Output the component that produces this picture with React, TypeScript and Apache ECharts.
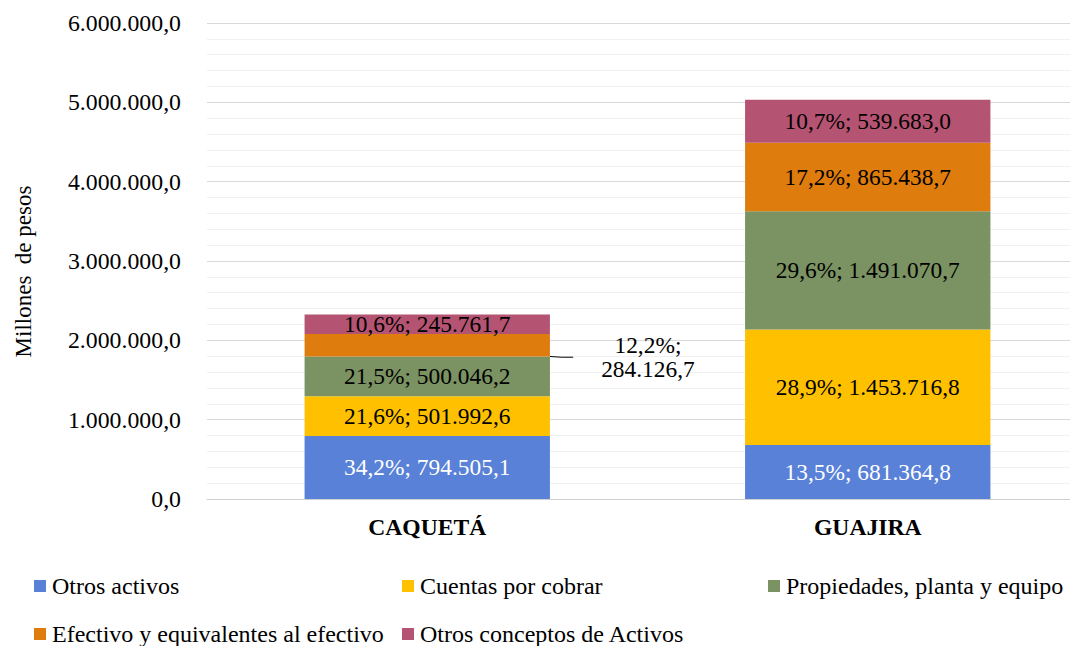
import React, { useEffect, useRef } from "react";
import * as echarts from "echarts";

const categories = ["CAQUETÁ", "GUAJIRA"];
const seriesNames = [
  "Otros activos",
  "Cuentas por cobrar",
  "Propiedades, planta y equipo",
  "Efectivo y equivalentes al efectivo",
  "Otros conceptos de Activos",
];
const otrosActivos = [794505.1, 681364.8];
const cuentasPorCobrar = [501992.6, 1453716.8];
const propiedades = [500046.2, 1491070.7];
const efectivo = [284126.7, 865438.7];
const otrosConceptos = [245761.7, 539683.0];
const seriesValues = [otrosActivos, cuentasPorCobrar, propiedades, efectivo, otrosConceptos];
const colors = ["#5881D7", "#FFC000", "#7B9262", "#DE7C0D", "#B55472"];
const labelColors = ["#ffffff", "#000000", "#000000", "#000000", "#000000"];
const yMin = 0;
const yMax = 6000000;
const yInterval = 1000000;
const yAxisName = "Millones  de pesos";

const FONT = "Liberation Serif";
const FS_LABEL = 23.4;
const FS_TICK = 23.8;
const FS_LEGEND = 24;
const FS_CAT = 23.6;
const FS_NAME = 23;

function fmtNum(v: number): string {
  const s = Math.abs(v).toFixed(1);
  const [intPart, dec] = s.split(".");
  const grouped = intPart.replace(/\B(?=(\d{3})+(?!\d))/g, ".");
  return (v < 0 ? "-" : "") + grouped + "," + dec;
}

const totals = categories.map((_, i) => seriesValues.reduce((a, s) => a + s[i], 0));
function pct(v: number, i: number): string {
  return ((v / totals[i]) * 100).toFixed(1).replace(".", ",") + "%";
}

export default function App() {
  const ref = useRef<HTMLDivElement>(null);
  useEffect(() => {
    document.body.style.margin = "0";
    if (!ref.current) return;
    const chart = echarts.init(ref.current, null, { renderer: "svg" });

    const legendPos = [
      { left: 34, top: 573 },
      { left: 402, top: 573 },
      { left: 768, top: 573 },
      { left: 34, top: 621 },
      { left: 402, top: 621 },
    ];

    const series: any[] = seriesNames.map((name, si) => {
      const values = seriesValues[si];
      const isEfectivo = si === 3;
      const data = values.map((v, ci) => {
        if (isEfectivo && ci === 0) {
          return {
            value: v,
            label: {
              formatter: () => pct(v, ci) + ";\n" + fmtNum(v),
              lineHeight: 24,
              padding: [0, 28, 0, 28],
              align: "center",
            },
            labelLine: { show: true, length2: 12, lineStyle: { color: "#000", width: 1 } },
          };
        }
        return v;
      });
      const s: any = {
        name,
        type: "bar",
        stack: "total",
        barWidth: "55.7%",
        data,
        itemStyle: { color: colors[si] },
        label: {
          show: true,
          position: "inside",
          color: labelColors[si],
          fontSize: FS_LABEL,
          fontFamily: FONT,
          textBorderWidth: 0,
          formatter: (p: any) => pct(values[p.dataIndex], p.dataIndex) + "; " + fmtNum(values[p.dataIndex]),
        },
        emphasis: { disabled: true },
      };
      if (isEfectivo) {
        s.labelLayout = (params: any) => {
          if (params.dataIndex !== 0) return {};
          const r = params.rect;
          return {
            x: r.x + r.width + 98,
            y: r.y + r.height / 2 + 12,
            align: "center",
            verticalAlign: "middle",
          };
        };
      }
      return s;
    });

    chart.setOption({
      animation: false,
      grid: { left: 207, top: 23, width: 881, height: 476, containLabel: false, outerBoundsMode: "none" },
      legend: seriesNames.map((n, i) => ({
        show: true,
        data: [n],
        left: legendPos[i].left,
        top: legendPos[i].top,
        padding: 0,
        icon: "rect",
        itemWidth: 12,
        itemHeight: 12,
        selectedMode: false,
        textStyle: { fontSize: FS_LEGEND, fontFamily: FONT, color: "#000", lineHeight: 26, padding: [0, 0, 0, 1] },
      })),
      xAxis: {
        type: "category",
        data: categories,
        axisTick: { show: false },
        axisLine: { show: true, lineStyle: { color: "#d0d0d0", width: 1 } },
        axisLabel: { fontSize: FS_CAT, fontFamily: FONT, fontWeight: "bold", color: "#000", margin: 16 },
      },
      yAxis: {
        type: "value",
        min: yMin,
        max: yMax,
        interval: yInterval,
        name: yAxisName,
        nameLocation: "middle",
        nameGap: 172,
        nameTextStyle: { fontSize: FS_NAME, fontFamily: FONT, color: "#000", padding: [0, 21, 0, 0] },
        axisLine: { show: false },
        axisTick: { show: false },
        axisLabel: { fontSize: FS_TICK, fontFamily: FONT, color: "#000", margin: 26, formatter: (v: number) => fmtNum(v) },
        splitLine: { show: true, lineStyle: { color: "#d9d9d9", width: 1 } },
        minorTick: { show: false, splitNumber: 5 },
        minorSplitLine: { show: true, lineStyle: { color: "#f0f0f0", width: 1 } },
      },
      series,
    });
    return () => chart.dispose();
  }, []);
  return <div ref={ref} style={{ width: 1070, height: 646 }} />;
}
